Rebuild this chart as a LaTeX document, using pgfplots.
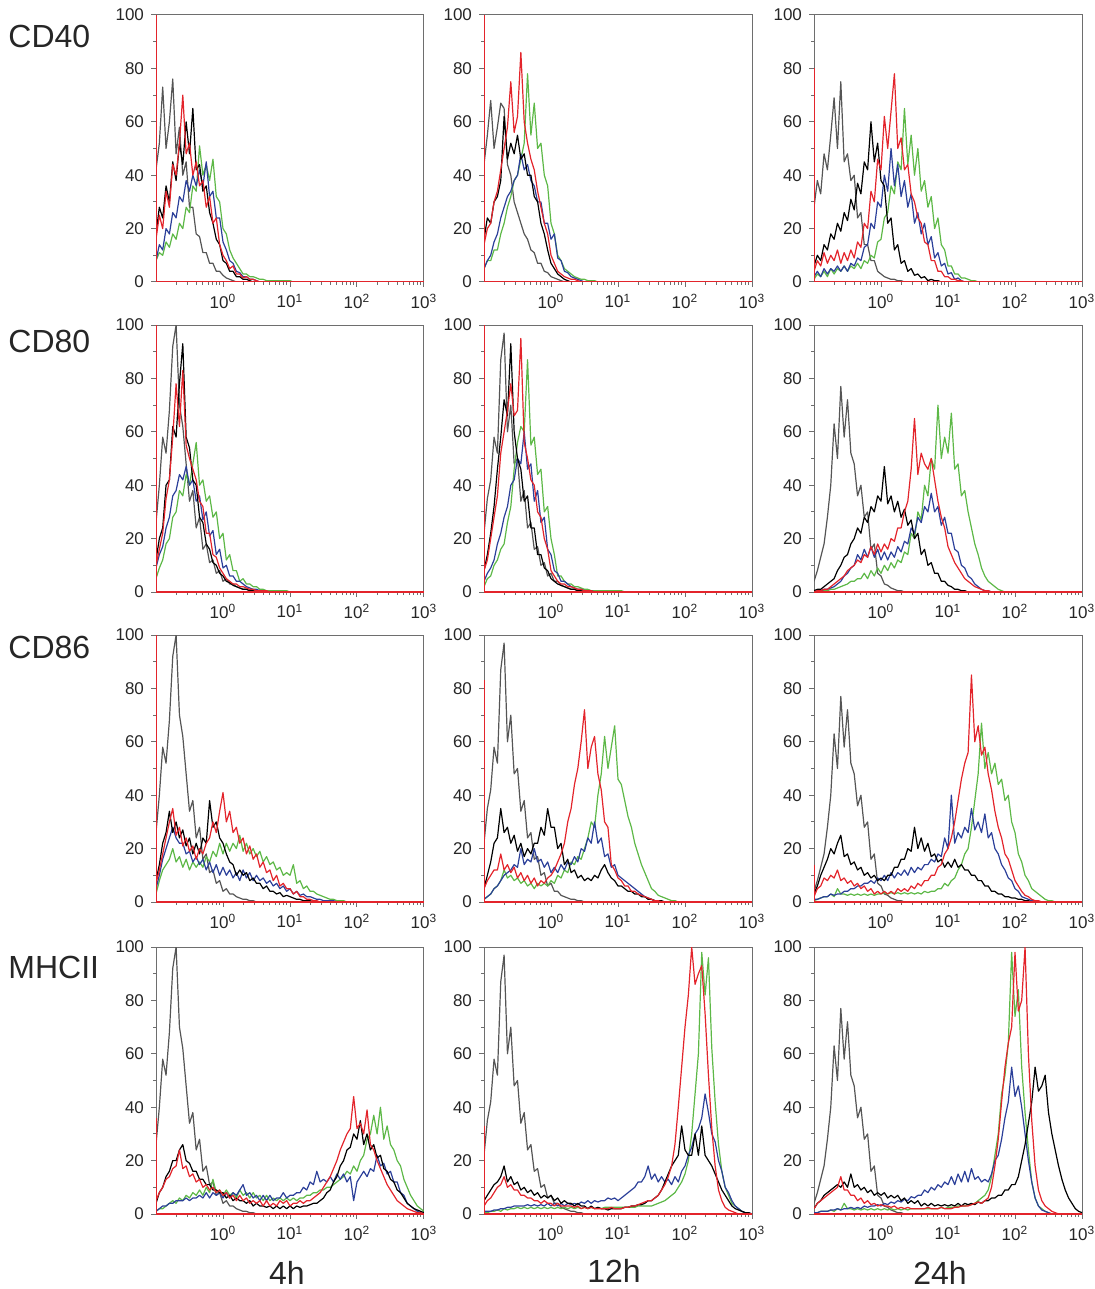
\documentclass[border=0pt]{standalone}
\usepackage{fontspec}
\setmainfont{Liberation Sans}
\usepackage{pgfplots}
\pgfplotsset{compat=1.18}

\definecolor{iso}{HTML}{555555}
\definecolor{blk}{HTML}{000000}
\definecolor{rd}{HTML}{E3242B}
\definecolor{gn}{HTML}{5DB847}
\definecolor{bl}{HTML}{2B3F99}
\definecolor{frame}{HTML}{6E6E6E}

% one histogram: y values per channel, channels 0.05 decade apart from 10^-1
\newcommand{\hist}[2]{\addplot[#1] table[header=false,row sep=\\,x expr={-1+0.05*\coordindex},y index=0]{#2};}

% isotype controls (same for rows 2-4 of a column)
\newcommand{\isoA}{\hist{iso}{26\\40\\58\\52\\68\\92\\100\\70\\62\\48\\34\\38\\24\\28\\16\\18\\11\\12\\7\\8\\4\\5\\3\\3\\2\\1.5\\1\\1\\0.5\\0.5\\0\\}}
\newcommand{\isoB}{\hist{iso}{22\\35\\42\\58\\52\\87\\97\\60\\70\\48\\50\\34\\38\\24\\26\\16\\17\\10\\11\\6\\7\\4\\4\\2.5\\2\\1.5\\1\\1\\0.5\\0.5\\0\\}}
\newcommand{\isoC}{\hist{iso}{4\\8\\13\\18\\28\\40\\63\\50\\77\\58\\72\\52\\48\\36\\40\\28\\30\\16\\18\\7\\6\\3\\2.5\\1.5\\1\\0.5\\0.5\\0\\}}

\pgfplotsset{
  hist/.style={
    scale only axis,width=134pt,height=133.5pt,anchor=north west,
    xmin=-1,xmax=3,ymin=0,ymax=100,
    axis line style={frame,line width=0.5pt},
    tick align=outside,xtick pos=left,ytick pos=left,
    xtick={0,1,2,3},
    xticklabels={10\textsuperscript{0},10\textsuperscript{1},10\textsuperscript{2},10\textsuperscript{3}},
    minor xtick={-0.699,-0.523,-0.398,-0.301,-0.222,-0.155,-0.097,-0.046,
      0.301,0.477,0.602,0.699,0.778,0.845,0.903,0.954,
      1.301,1.477,1.602,1.699,1.778,1.845,1.903,1.954,
      2.301,2.477,2.602,2.699,2.778,2.845,2.903,2.954},
    ytick={0,20,40,60,80,100},yticklabels={0,20,40,60,80,100},
    minor ytick={10,30,50,70,90},
    major tick length=2.5pt,minor tick length=1.5pt,
    tick style={frame,line width=0.5pt},
    tick label style={font=\fontsize{8.5}{9}\selectfont,text=black!85},
    every axis plot/.append style={line width=0.6pt,line join=round},
  },
}
\tikzset{lab/.style={font=\fontsize{16}{19}\selectfont,text=black!85,inner sep=0pt}}

\begin{document}
\begin{tikzpicture}
\useasboundingbox (0,0) rectangle (547pt,-644.5pt);

% ---------------- CD40 ----------------
\begin{axis}[hist,at={(78pt,-7.5pt)}]
\hist{iso}{42\\52\\73\\50\\60\\76\\48\\58\\40\\45\\28\\28\\18\\17\\11\\11\\7\\7\\4\\4\\2.5\\1.5\\1\\0.5\\0\\}
\hist{gn}{8\\11\\10\\15\\13\\18\\16\\22\\20\\28\\26\\36\\34\\51\\40\\44\\38\\46\\32\\30\\20\\18\\12\\9\\7\\5\\3\\3\\2\\2\\1.5\\1\\1\\0.5\\0.5\\0.5\\0.5\\0.5\\0.5\\0.5\\0.5\\0\\}
\hist{bl}{8\\14\\12\\20\\18\\26\\24\\32\\30\\38\\34\\40\\36\\42\\36\\45\\32\\34\\24\\24\\15\\12\\8\\7\\4\\3.5\\2\\2\\1\\1\\0.5\\0\\}
\hist{blk}{18\\28\\24\\36\\30\\45\\38\\52\\44\\60\\48\\65\\42\\44\\34\\36\\26\\22\\16\\14\\8\\7\\4\\4\\2\\2\\1\\1\\0.5\\0\\}
\hist{rd}{16\\25\\20\\34\\28\\44\\40\\52\\70\\48\\52\\40\\45\\36\\38\\28\\32\\22\\24\\14\\10\\8\\5\\6\\3\\3\\1.5\\2\\1\\1\\0.5\\0\\}
\addplot[rd] coordinates {(-1,100)(-1,0)(3,0)};
\end{axis}

\begin{axis}[hist,at={(242pt,-7.5pt)}]
\hist{iso}{44\\55\\68\\50\\58\\67\\65\\44\\40\\30\\26\\22\\18\\16\\12\\11\\7\\7\\4\\3.5\\2\\1.5\\1\\0.5\\0\\}
\hist{gn}{5\\8\\8\\12\\12\\18\\22\\28\\32\\38\\40\\46\\52\\78\\55\\67\\50\\52\\40\\36\\22\\18\\10\\8\\5\\4\\3\\2\\1.5\\1\\1\\0.5\\0.5\\0.5\\0\\}
\hist{bl}{5\\8\\10\\15\\18\\24\\28\\32\\34\\38\\40\\48\\42\\44\\38\\36\\30\\30\\22\\22\\16\\18\\9\\8\\4\\3.5\\2\\1.5\\1\\0.5\\0\\}
\hist{blk}{16\\24\\22\\30\\32\\38\\62\\46\\52\\48\\55\\46\\48\\40\\40\\32\\30\\22\\18\\12\\7\\5\\3\\2\\1\\0.5\\0\\}
\hist{rd}{14\\20\\22\\30\\34\\42\\50\\58\\75\\56\\62\\86\\60\\52\\46\\42\\34\\28\\22\\18\\10\\7\\4\\3\\2\\1.5\\1\\1\\0.5\\0\\}
\addplot[rd] coordinates {(-1,100)(-1,0)(3,0)};
\end{axis}

\begin{axis}[hist,at={(407pt,-7.5pt)}]
\hist{iso}{28\\38\\33\\48\\42\\55\\69\\50\\75\\45\\48\\38\\40\\24\\26\\14\\14\\8\\8\\4\\3\\2\\1.5\\1\\1\\0.5\\0.5\\0\\}
\hist{gn}{1\\3\\2\\4\\2\\5\\3\\5\\4\\6\\4\\6\\5\\7\\5\\8\\7\\10\\9\\15\\16\\24\\26\\36\\33\\45\\42\\65\\44\\55\\40\\50\\34\\38\\28\\32\\20\\24\\14\\12\\6\\6\\3\\3\\1.5\\1.5\\1\\0.5\\0.5\\0\\}
\hist{bl}{2\\4\\2\\5\\3\\5\\4\\6\\4\\6\\4\\7\\6\\9\\8\\13\\14\\22\\20\\30\\28\\40\\34\\50\\36\\44\\32\\38\\28\\33\\22\\26\\18\\22\\14\\17\\9\\11\\6\\7\\3\\3.5\\1\\1.5\\0.5\\0\\}
\hist{blk}{6\\10\\8\\14\\12\\18\\16\\22\\19\\26\\23\\31\\27\\37\\33\\45\\42\\60\\45\\52\\38\\36\\22\\24\\12\\14\\7\\8\\4\\5\\2.5\\3\\1.5\\2\\0.5\\1\\0.5\\0.5\\0\\}
\hist{rd}{4\\8\\6\\11\\7\\10\\8\\12\\7\\11\\8\\12\\9\\15\\13\\22\\20\\34\\30\\46\\42\\62\\50\\64\\78\\50\\54\\42\\44\\33\\30\\24\\22\\15\\14\\8\\8\\4\\4\\2\\2\\1\\1\\0.5\\0.5\\0\\}
\addplot[rd] coordinates {(-1,80)(-1,0)(3,0)};
\end{axis}

% ---------------- CD80 ----------------
\begin{axis}[hist,at={(78pt,-162.5pt)}]
\isoA
\hist{gn}{5\\9\\12\\18\\20\\28\\30\\38\\36\\44\\40\\48\\56\\40\\42\\34\\36\\28\\30\\20\\22\\12\\14\\8\\8\\4\\5\\3\\3\\2\\2\\1\\1\\0.5\\0.5\\0.5\\0.5\\0.5\\0.5\\0.5\\0\\}
\hist{bl}{9\\14\\17\\24\\28\\36\\38\\44\\42\\47\\40\\42\\34\\36\\27\\30\\21\\23\\14\\16\\9\\10\\6\\6\\4\\4\\3\\2\\1.5\\1\\1\\0.5\\0.5\\0\\}
\hist{blk}{12\\20\\24\\40\\42\\62\\58\\78\\93\\58\\54\\42\\40\\28\\26\\18\\16\\11\\10\\7\\6\\4\\3.5\\2.5\\2\\1.5\\1\\1\\0.5\\0.5\\0\\}
\hist{rd}{10\\16\\22\\35\\42\\58\\78\\62\\83\\55\\50\\46\\42\\34\\32\\22\\22\\14\\13\\9\\7\\5\\4\\3\\3\\2\\2\\1.5\\1\\1\\0.5\\0.5\\0.5\\0.5\\0\\}
\addplot[rd] coordinates {(-1,100)(-1,0)(3,0)};
\end{axis}

\begin{axis}[hist,at={(242pt,-162.5pt)}]
\isoB
\hist{gn}{2\\5\\6\\10\\12\\16\\18\\26\\32\\46\\56\\62\\60\\87\\55\\58\\44\\46\\30\\32\\20\\14\\6\\6\\4\\3\\3\\2\\2\\1.5\\1\\1\\0.5\\0.5\\0.5\\0.5\\0.5\\0.5\\0.5\\0.5\\0.5\\0.5\\0\\}
\hist{bl}{4\\7\\9\\12\\18\\22\\28\\32\\40\\42\\50\\48\\60\\46\\48\\34\\38\\26\\28\\16\\14\\8\\7\\4\\4\\3\\2\\1.5\\1\\1\\0.5\\0.5\\0.5\\0\\}
\hist{blk}{8\\14\\22\\32\\46\\58\\72\\66\\93\\60\\50\\46\\34\\36\\24\\24\\14\\14\\9\\8\\5\\4\\3\\2.5\\2\\1.5\\1\\1\\0.5\\0.5\\0\\}
\hist{rd}{8\\12\\20\\28\\36\\52\\60\\68\\78\\66\\68\\95\\56\\50\\42\\40\\30\\28\\20\\16\\8\\6\\4\\3\\3\\2\\2\\1.5\\1\\1\\0.5\\0.5\\0.5\\0\\}
\addplot[rd] coordinates {(-1,100)(-1,0)(3,0)};
\end{axis}

\begin{axis}[hist,at={(407pt,-162.5pt)}]
\isoC
\hist{gn}{0\\0\\0.5\\0.5\\0.5\\1\\1\\1.5\\2\\2.5\\3\\4\\4\\5\\5\\7\\5\\8\\6\\9\\7\\10\\8\\11\\9\\12\\11\\15\\14\\22\\20\\30\\27\\40\\36\\50\\46\\70\\50\\58\\52\\67\\46\\48\\36\\38\\30\\24\\18\\14\\9\\6\\4\\3\\2\\1\\0.5\\0\\}
\hist{bl}{0\\0.5\\0.5\\1\\1\\1.5\\2\\3\\4\\6\\7\\9\\10\\14\\12\\16\\13\\17\\13\\16\\12\\15\\12\\15\\13\\17\\15\\19\\18\\24\\22\\28\\26\\32\\30\\37\\30\\32\\25\\28\\22\\22\\16\\15\\10\\9\\6\\5\\3\\2\\1\\0.5\\0.5\\0\\}
\hist{blk}{0.5\\1\\1\\2\\3\\4\\5\\8\\10\\13\\14\\18\\20\\24\\22\\28\\26\\32\\30\\36\\34\\47\\33\\36\\30\\34\\28\\31\\25\\27\\20\\22\\14\\16\\10\\11\\7\\7\\4\\4\\2.5\\2\\1\\1\\0.5\\0.5\\0\\}
\hist{rd}{0\\0.5\\0.5\\1\\1\\2\\3\\4\\5\\6\\8\\9\\10\\12\\11\\14\\13\\17\\14\\18\\15\\18\\16\\20\\19\\24\\24\\30\\34\\46\\65\\44\\52\\48\\46\\50\\42\\34\\28\\24\\17\\14\\11\\9\\7\\5\\4\\3\\2\\1.5\\1\\0.5\\0.5\\0\\}
\addplot[rd] coordinates {(-1,0)(3,0)};
\end{axis}

% ---------------- CD86 ----------------
\begin{axis}[hist,at={(78pt,-317.5pt)}]
\isoA
\hist{gn}{3\\8\\12\\14\\16\\20\\15\\17\\13\\16\\12\\15\\13\\15\\13\\17\\15\\19\\17\\22\\18\\22\\19\\22\\20\\25\\19\\22\\18\\20\\17\\19\\15\\17\\14\\15\\12\\13\\10\\11\\10\\14\\7\\8\\5\\6\\4\\4\\3\\2.5\\2\\1.5\\1\\1\\0.5\\0.5\\0.5\\0\\}
\hist{bl}{5\\10\\16\\20\\24\\28\\24\\22\\22\\18\\19\\15\\17\\14\\16\\12\\15\\11\\14\\10\\13\\10\\12\\9\\11\\8\\12\\9\\11\\8\\10\\8\\9\\7\\8\\6\\7\\5\\6\\4\\5\\3\\4\\2.5\\3\\2\\2\\1.5\\1\\1\\0.5\\0.5\\0.5\\0.5\\0\\}
\hist{blk}{8\\14\\22\\26\\34\\26\\30\\24\\27\\21\\24\\18\\22\\18\\24\\22\\38\\28\\30\\24\\22\\18\\15\\14\\10\\12\\10\\11\\8\\9\\7\\7\\5\\6\\4\\4\\3\\3.5\\2\\2.5\\2\\1.5\\1\\1\\0.5\\0.5\\0.5\\0\\}
\hist{rd}{7\\12\\18\\24\\30\\35\\25\\28\\21\\24\\19\\21\\16\\20\\18\\22\\24\\30\\26\\34\\41\\30\\34\\26\\28\\22\\24\\18\\21\\16\\18\\13\\15\\11\\12\\8\\10\\6\\7\\5\\5\\3\\4\\2\\2\\1\\1\\0.5\\0.5\\0\\}
\addplot[rd] coordinates {(-1,100)(-1,0)(3,0)};
\end{axis}

\begin{axis}[hist,at={(242pt,-317.5pt)}]
\isoB
\hist{gn}{1\\2\\3\\5\\6\\8\\12\\9\\10\\8\\9\\7\\8\\6\\7\\5\\7\\6\\7\\6\\8\\7\\10\\9\\12\\11\\15\\14\\17\\16\\20\\24\\30\\28\\40\\48\\62\\50\\58\\66\\46\\44\\38\\32\\28\\22\\18\\14\\11\\8\\5\\4\\2.5\\2\\1.5\\1\\0.5\\0.5\\0\\}
\hist{bl}{1\\2\\3\\5\\6\\8\\10\\11\\12\\14\\13\\20\\14\\16\\15\\20\\15\\16\\13\\15\\11\\13\\11\\14\\12\\15\\14\\17\\15\\20\\19\\24\\22\\30\\22\\24\\17\\18\\13\\14\\10\\9\\8\\7\\6\\5\\4\\3\\2\\1.5\\1\\0.5\\0.5\\0\\}
\hist{blk}{5\\10\\15\\22\\24\\35\\26\\28\\22\\25\\19\\22\\17\\20\\18\\22\\22\\28\\25\\35\\28\\28\\20\\22\\14\\16\\11\\12\\9\\10\\8\\9\\8\\10\\9\\12\\14\\11\\9\\8\\6\\6\\5\\4\\4\\3\\3\\2\\2\\1\\1\\0.5\\0.5\\0.5\\0\\}
\hist{rd}{5\\8\\10\\12\\12\\18\\12\\14\\11\\13\\9\\11\\8\\10\\7\\9\\6\\8\\7\\9\\10\\12\\15\\18\\22\\30\\35\\44\\50\\60\\72\\50\\58\\62\\48\\42\\30\\28\\14\\12\\9\\8\\6\\6\\4\\4\\3\\2.5\\2\\1.5\\1\\0.5\\0.5\\0\\}
\addplot[rd] coordinates {(-1,83)(-1,0)(3,0)};
\end{axis}

\begin{axis}[hist,at={(407pt,-317.5pt)}]
\isoC
\hist{gn}{0.5\\1\\1.5\\2\\2\\3\\2\\5\\3\\3\\2.5\\3\\2.5\\3\\2.5\\3\\2.5\\3\\2.5\\3\\3\\3.5\\3\\3.5\\3\\3.5\\3\\3.5\\3\\3.5\\3\\3.5\\3\\4\\3.5\\4\\4\\5\\5\\7\\6\\8\\9\\12\\14\\18\\20\\28\\38\\48\\67\\50\\56\\48\\52\\44\\46\\38\\40\\30\\26\\18\\15\\10\\8\\5\\4\\3\\2\\1\\0.5\\0.5\\0\\}
\hist{bl}{1\\1\\1.5\\2\\2\\3\\2.5\\3\\3\\4\\4\\5\\5\\6\\6\\7\\7\\8\\7\\9\\8\\10\\8\\11\\9\\11\\10\\12\\10\\13\\11\\13\\12\\14\\14\\16\\15\\18\\17\\24\\20\\40\\22\\26\\24\\28\\26\\35\\27\\30\\26\\33\\24\\26\\20\\18\\14\\12\\9\\8\\5\\4\\2\\1.5\\1\\0.5\\0.5\\0\\}
\hist{blk}{3\\6\\10\\13\\16\\20\\18\\22\\25\\17\\18\\14\\15\\12\\13\\10\\11\\9\\10\\8\\9\\8\\10\\10\\13\\13\\16\\16\\20\\19\\28\\20\\24\\19\\22\\17\\18\\15\\16\\13\\15\\13\\16\\13\\14\\12\\12\\10\\10\\8\\8\\6\\6\\4\\4\\3\\3\\2\\2\\1.5\\1.5\\1\\1\\0.5\\0.5\\0\\}
\hist{rd}{2\\5\\6\\9\\8\\10\\9\\12\\8\\9\\7\\8\\6\\7\\5\\6\\4\\5\\3\\4\\3\\4\\3\\4\\3\\5\\4\\5\\4\\6\\5\\7\\6\\8\\8\\10\\10\\13\\14\\18\\20\\24\\30\\38\\46\\52\\56\\85\\60\\66\\55\\58\\48\\42\\34\\28\\24\\18\\16\\12\\8\\6\\4\\2.5\\2\\1\\0.5\\0.5\\0\\}
\addplot[rd] coordinates {(-1,14)(-1,0)(3,0)};
\end{axis}

% ---------------- MHCII ----------------
\begin{axis}[hist,at={(78pt,-473.5pt)}]
\isoA
\hist{gn}{1\\2\\2\\3\\4\\5\\4\\6\\5\\7\\6\\8\\7\\9\\7\\10\\8\\13\\8\\9\\7\\9\\7\\8\\6\\9\\7\\8\\6\\8\\6\\7\\5\\7\\5\\6\\5\\6\\5\\6\\5\\6\\5\\6\\6\\7\\7\\8\\8\\9\\9\\10\\10\\11\\12\\13\\14\\16\\15\\18\\16\\20\\22\\28\\30\\37\\30\\40\\28\\33\\26\\24\\20\\18\\13\\10\\7\\5\\3\\2\\1\\}
\hist{bl}{1\\2\\3\\3\\4\\4\\5\\5\\5\\6\\5\\6\\6\\7\\6\\8\\6\\8\\7\\8\\6\\8\\6\\8\\7\\9\\11\\7\\8\\6\\7\\5\\7\\5\\7\\5\\6\\6\\8\\6\\7\\7\\8\\8\\10\\9\\12\\11\\16\\12\\13\\12\\14\\12\\15\\13\\15\\12\\14\\5\\12\\14\\16\\14\\17\\16\\22\\18\\19\\15\\16\\12\\12\\8\\7\\4\\3\\2\\1\\0.5\\0\\}
\hist{blk}{4\\8\\10\\14\\16\\20\\20\\24\\26\\20\\19\\16\\16\\13\\13\\11\\11\\9\\9\\8\\8\\6\\7\\5\\6\\5\\5\\4\\5\\3\\4\\3\\3\\2.5\\3\\2\\3\\2\\3\\2\\3\\2\\3\\2.5\\3\\3\\3.5\\4\\4\\5\\6\\8\\9\\12\\14\\18\\20\\24\\25\\30\\28\\35\\26\\30\\24\\26\\21\\22\\17\\16\\13\\12\\9\\8\\6\\4\\3\\2\\1.5\\1\\0.5\\}
\hist{rd}{5\\8\\10\\13\\14\\17\\18\\24\\17\\18\\14\\15\\12\\13\\10\\11\\9\\10\\8\\9\\7\\8\\6\\7\\5\\7\\5\\6\\4\\5\\4\\5\\3\\5\\3\\4\\3\\5\\4\\5\\3\\4\\4\\5\\4\\5\\5\\6\\7\\8\\10\\12\\14\\17\\20\\24\\27\\30\\32\\44\\32\\34\\30\\39\\26\\24\\20\\17\\14\\11\\9\\7\\5\\4\\3\\2\\1.5\\1\\0.5\\0.5\\0\\}
\addplot[rd] coordinates {(-1,36)(-1,0)(3,0)};
\end{axis}

\begin{axis}[hist,at={(242pt,-473.5pt)}]
\isoB
\hist{gn}{0.5\\0.5\\1\\1\\1.5\\1\\2\\1.5\\2\\2\\2.5\\2\\2.5\\2\\2.5\\2\\2.5\\2\\2.5\\2\\2.5\\2\\2.5\\2\\2.5\\2\\2.5\\2\\2.5\\2\\2.5\\2\\2.5\\2\\2.5\\2\\2.5\\2.5\\2.5\\2.5\\2.5\\2.5\\2.5\\2.5\\2.5\\2.5\\3\\3\\3\\3\\3\\3.5\\4\\4.5\\5\\6\\7\\8\\10\\12\\15\\20\\30\\45\\60\\98\\82\\96\\62\\42\\26\\16\\10\\7\\4\\3\\2\\1\\0.5\\0\\}
\hist{bl}{1\\1\\1\\1.5\\1.5\\2\\2\\2.5\\2.5\\3\\3\\3\\3\\3.5\\3\\3.5\\3\\3.5\\3\\4\\3\\4\\3\\4\\3\\4\\3.5\\4\\3.5\\4.5\\4\\5\\4\\5\\4.5\\5\\5\\6\\5.5\\6\\5\\6\\7\\8\\9\\10\\12\\12\\14\\18\\13\\15\\12\\14\\12\\13\\11\\14\\12\\16\\18\\22\\25\\30\\32\\36\\45\\38\\30\\27\\20\\16\\10\\8\\5\\3\\2\\1\\0.5\\0.5\\0\\}
\hist{blk}{5\\7\\9\\11\\12\\14\\18\\12\\14\\11\\12\\9\\10\\8\\9\\7\\8\\6\\7\\6\\7\\5\\6\\4\\5\\4\\4\\3\\4\\3\\3\\2\\3\\2\\2.5\\2\\2\\1.5\\2\\2\\2\\2\\2.5\\2.5\\3\\3\\3.5\\3.5\\4\\5\\5\\6\\7\\9\\12\\15\\18\\20\\22\\33\\24\\22\\22\\30\\22\\33\\22\\20\\18\\15\\12\\9\\7\\5\\3\\2\\1.5\\1\\0.5\\0.5\\0\\}
\hist{rd}{3\\5\\6\\8\\10\\11\\14\\10\\11\\9\\9\\7\\7\\6\\6\\5\\5\\4\\5\\4\\4\\3\\4\\3\\3\\3\\3\\2.5\\3\\2\\2.5\\2\\2.5\\2\\2\\2\\2\\2\\2.5\\2\\2\\2\\2.5\\2.5\\3\\3\\3.5\\4\\4.5\\5\\5\\6\\7\\9\\11\\14\\18\\26\\40\\55\\70\\82\\100\\86\\90\\93\\75\\52\\32\\18\\9\\5\\2.5\\1.5\\1\\0.5\\0\\}
\addplot[rd] coordinates {(-1,33)(-1,0)(3,0)};
\end{axis}

\begin{axis}[hist,at={(407pt,-473.5pt)}]
\isoC
\hist{gn}{0.5\\0.5\\1\\1\\1\\1.5\\1\\2\\1.5\\4\\2\\2\\1.5\\2\\1.5\\2\\1.5\\2\\1.5\\2\\1.5\\2\\1.5\\2\\1.5\\2\\1.5\\2\\1.5\\2\\2\\2\\2\\2\\2\\2\\2\\2\\2.5\\2\\2.5\\2.5\\2.5\\3\\3\\3\\3.5\\3.5\\4\\5\\6\\7\\9\\14\\22\\30\\45\\52\\64\\98\\74\\84\\55\\38\\24\\12\\6\\3\\2\\1\\0.5\\0\\}
\hist{bl}{0.5\\0.5\\1\\1\\1\\1.5\\1.5\\2\\1.5\\2\\2\\2.5\\2\\2.5\\2\\3\\2.5\\3\\3\\3.5\\3\\4\\3.5\\4.5\\4\\5\\4.5\\5.5\\5\\6.5\\6\\7\\7\\9\\8\\10\\9\\11\\10\\12\\11\\14\\11\\15\\12\\16\\12\\17\\13\\14\\12\\13\\12\\15\\20\\22\\28\\36\\42\\55\\44\\48\\40\\30\\20\\12\\6\\3\\1.5\\1\\0.5\\0\\}
\hist{blk}{2\\4\\5\\7\\8\\9\\10\\11\\10\\12\\10\\15\\10\\11\\9\\10\\8\\9\\7\\8\\7\\8\\6\\7\\6\\7\\5\\6\\4\\5\\4\\5\\3\\4\\3\\4\\3\\3.5\\3\\3.5\\3\\3.5\\3\\4\\3\\4\\3.5\\4\\3.5\\4.5\\4\\5\\5\\6\\6\\7\\7\\9\\9\\11\\11\\14\\20\\26\\34\\42\\55\\46\\48\\52\\38\\30\\24\\18\\13\\9\\6\\4\\2\\1\\0.5\\}
\hist{rd}{2\\4\\5\\6\\7\\8\\9\\10\\14\\9\\9\\7\\7\\5\\6\\4\\5\\3.5\\4\\3\\3.5\\3\\3\\2.5\\3\\2\\2.5\\2\\2.5\\2\\2\\2\\2\\2\\2.5\\2\\2\\2\\2.5\\2\\2\\2\\2.5\\2.5\\3\\3\\3\\3.5\\4\\4.5\\4\\5\\6\\10\\18\\28\\42\\55\\64\\70\\98\\76\\80\\100\\60\\35\\18\\9\\5\\3\\2\\1\\0.5\\0\\}
\addplot[rd] coordinates {(-1,0)(3,0)};
\end{axis}

% row and column labels
\node[lab,anchor=base west] at (4pt,-24pt) {CD40};
\node[lab,anchor=base west] at (4pt,-176pt) {CD80};
\node[lab,anchor=base west] at (4pt,-329pt) {CD86};
\node[lab,anchor=base west] at (4pt,-489pt) {MHCII};
\node[lab,anchor=base] at (143.5pt,-642pt) {4h};
\node[lab,anchor=base] at (307pt,-641pt) {12h};
\node[lab,anchor=base] at (470pt,-642pt) {24h};
\end{tikzpicture}
\end{document}
